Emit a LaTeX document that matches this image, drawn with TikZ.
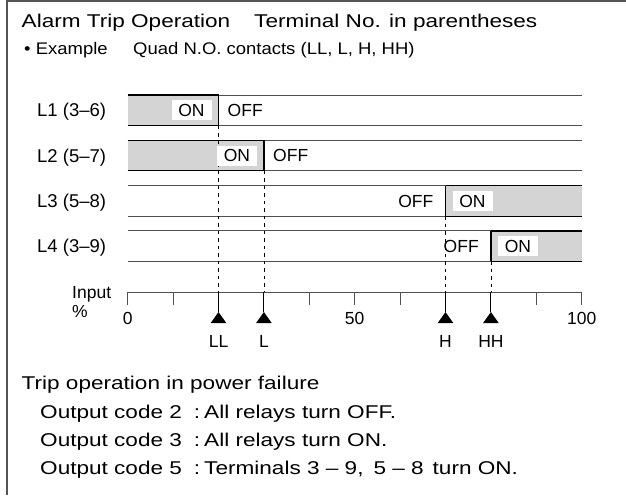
\documentclass[tikz,border=0pt]{standalone}
\usepackage{fontspec}
\setmainfont{Liberation Sans}
\newfontfamily\widefont[FakeStretch=1.22]{Liberation Sans}
\newfontfamily\midfont[FakeStretch=1.1]{Liberation Sans}
\usetikzlibrary{calc}
\definecolor{barfill}{HTML}{D4D4D4}
\definecolor{rowline}{HTML}{505050}
\definecolor{framecol}{HTML}{555555}
\begin{document}
\begin{tikzpicture}[x=1pt,y=-1pt,
  big/.style={inner sep=0, anchor=base west, font=\widefont\fontsize{18.5}{20}\selectfont},
  sub/.style={inner sep=0, anchor=base west, font=\midfont\fontsize{16.8}{18}\selectfont},
  rowlabel/.style={inner sep=0, anchor=base west, font=\fontsize{18.5}{20}\selectfont},
  offtxt/.style={inner sep=0, font=\fontsize{17.5}{19}\selectfont, text height=12.5, text depth=0},
  onbox/.style={fill=white, inner sep=0, minimum width=40, minimum height=20, text height=12.5, text depth=0, font=\fontsize{17.5}{19}\selectfont},
  axlabel/.style={inner sep=0, anchor=base, font=\fontsize{17.5}{19}\selectfont},
  rowedge/.style={draw=rowline, line width=1},
  onedge/.style={draw=black, line width=1.2},
  trans/.style={draw=black, line width=1.5},
  guide/.style={draw=black, line width=0.8, dash pattern=on 3.5 off 4},
  tickline/.style={draw=rowline, line width=1}
]
\useasboundingbox (0,0) rectangle (626,495);
% frame
\draw[framecol, line width=2] (7.3,495) -- (7.3,1.5) -- (628,1.5);

% title
\node[big] (title1) at (21.5,28) {Alarm Trip Operation};
\node[big] (title2) at (254,28) {Terminal No. in parentheses};
\node[sub] (ex) at (24,55) {\textbullet\ Example};
\node[sub] (quad) at (133,55) {Quad N.O. contacts (LL, L, H, HH)};

% row geometry
\def\xa{127.7}\def\xb{581.7}
% L1
\fill[barfill] (\xa,95) rectangle (218.5,125.5);
\draw[rowedge] (218.5,95) -- (\xb,95) (218.5,125.5) -- (\xb,125.5);
\draw[onedge] (\xa,95) -- (218.5,95) (\xa,125.5) -- (218.5,125.5);
% L2
\fill[barfill] (\xa,140.3) rectangle (263.9,170.8);
\draw[rowedge] (263.9,140.3) -- (\xb,140.3) (263.9,170.8) -- (\xb,170.8);
\draw[onedge] (\xa,140.3) -- (263.9,140.3) (\xa,170.8) -- (263.9,170.8);
% L3
\fill[barfill] (445.5,185.6) rectangle (\xb,216.1);
\draw[rowedge] (\xa,185.6) -- (445.5,185.6) (\xa,216.1) -- (445.5,216.1);
\draw[onedge] (445.5,185.6) -- (\xb,185.6) (445.5,216.1) -- (\xb,216.1);
% L4
\fill[barfill] (490.9,230.9) rectangle (\xb,261.4);
\draw[rowedge] (\xa,230.9) -- (490.9,230.9) (\xa,261.4) -- (490.9,261.4);
\draw[onedge] (490.9,230.9) -- (\xb,230.9) (490.9,261.4) -- (\xb,261.4);

% set points
\coordinate (llt) at (218.5,95);   \coordinate (llb) at (218.5,125.5);
\coordinate (lt)  at (263.9,140.3); \coordinate (lb) at (263.9,170.8);
\coordinate (ht)  at (445.5,185.6); \coordinate (hb) at (445.5,216.1);
\coordinate (hht) at (490.9,230.9); \coordinate (hhb) at (490.9,261.4);
\coordinate (llax) at (218.5,292); \coordinate (lax) at (263.9,292);
\coordinate (hax) at (445.5,292);  \coordinate (hhax) at (490.9,292);
\coordinate (lltri) at (218.5,312); \coordinate (ltri) at (263.9,312);
\coordinate (htri) at (445.5,312);  \coordinate (hhtri) at (490.9,312);

% guides
\draw[guide] (llb) -- (llax);
\draw[guide] (lb) -- (lax);
\draw[guide] (hb) -- (hax);
\draw[guide] (hhb) -- (hhax);

% transitions
\draw[trans] (llt) -- (llb);
\draw[trans] (lt) -- (lb);
\draw[trans] (ht) -- (hb);
\draw[trans] (hht) -- (hhb);

% row labels
\node[rowlabel] (r1) at (37,116.8) {L1 (3–6)};
\node[rowlabel] (r2) at (37,162.1) {L2 (5–7)};
\node[rowlabel] (r3) at (37,207.4) {L3 (5–8)};
\node[rowlabel] (r4) at (37,252.7) {L4 (3–9)};

% ON / OFF
\node[onbox] (on1) at (191.5,110.25) {ON};
\node[offtxt, anchor=west] (off1) at (227.5,110.25) {OFF};
\node[onbox] (on2) at (236.9,155.55) {ON};
\node[offtxt, anchor=west] (off2) at (273,155.55) {OFF};
\node[offtxt, anchor=east] (off3) at (433.5,200.85) {OFF};
\node[onbox] (on3) at (472.5,200.85) {ON};
\node[offtxt, anchor=east] (off4) at (478.9,246.15) {OFF};
\node[onbox] (on4) at (517.9,246.15) {ON};

% axis
\draw[tickline] (\xa,305) -- (\xa,292) -- (\xb,292) -- (\xb,305);
\foreach \i in {1,3,4,5,6,9} {
  \draw[tickline] (\xa+\i*45.4,292) -- (\xa+\i*45.4,305);
}
\draw[black, line width=1] (llax) -- (lltri) (lax) -- (ltri) (hax) -- (htri) (hhax) -- (hhtri);
\foreach \c in {lltri,ltri,htri,hhtri} {
  \fill[black] ($(\c)+(-7.8,11)$) -- (\c) -- ($(\c)+(7.8,11)$) -- cycle;
}
\node[axlabel] (n0) at (127.7,324) {0};
\node[axlabel] (n50) at (354.7,324) {50};
\node[axlabel] (n100) at (581.7,324) {100};
\node[axlabel] (tll) at (218.5,347) {LL};
\node[axlabel] (tl) at (263.9,347) {L};
\node[axlabel] (th) at (445.5,347) {H};
\node[axlabel] (thh) at (490.9,347) {HH};
\node[rowlabel, font=\fontsize{17.5}{19}\selectfont] (inp) at (72,298) {Input};
\node[rowlabel, font=\fontsize{17.5}{19}\selectfont] (pct) at (72,317) {\%};

% bottom text
\node[big] (b1) at (21.5,389.5) {Trip operation in power failure};
\node[big] (b2) at (40,418) {Output code 2\hspace{12pt}:\hspace{4pt}All relays turn OFF.};
\node[big] (b3) at (40,446.5) {Output code 3\hspace{12pt}:\hspace{4pt}All relays turn ON.};
\node[big] (b4) at (40,474.5) {Output code 5\hspace{12pt}:\hspace{4pt}Terminals 3 – 9,\hspace{10pt}5 – 8\hspace{9pt}turn ON.};
\end{tikzpicture}
\end{document}
